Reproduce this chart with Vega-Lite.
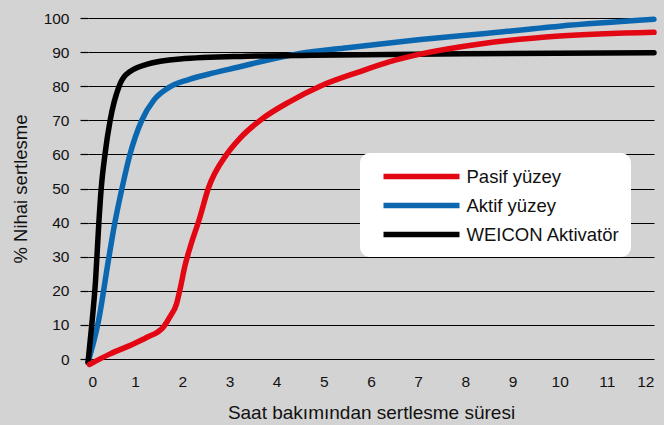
{
  "$schema": "https://vega.github.io/schema/vega-lite/v6.json",
  "width": 566,
  "height": 341,
  "autosize": {"type": "none"},
  "padding": {"left": 88, "top": 18, "right": 10, "bottom": 66},
  "background": "#d3d3d3",
  "config": {
    "view": {"stroke": null},
    "font": "Liberation Sans",
    "axis": {"labelColor": "#111", "titleColor": "#111", "labelFont": "Liberation Sans", "titleFont": "Liberation Sans", "titleFontWeight": "normal"},
    "legend": {"labelFont": "Liberation Sans"}
  },
  "datasets": {
    "curves": [
      {"s": "Aktif yüzey", "h": 0.0, "v": -1},
      {"s": "Aktif yüzey", "h": 0.22, "v": 11},
      {"s": "Aktif yüzey", "h": 0.445, "v": 30},
      {"s": "Aktif yüzey", "h": 0.57, "v": 40},
      {"s": "Aktif yüzey", "h": 0.72, "v": 50},
      {"s": "Aktif yüzey", "h": 0.89, "v": 60},
      {"s": "Aktif yüzey", "h": 1.14, "v": 70},
      {"s": "Aktif yüzey", "h": 1.4, "v": 76},
      {"s": "Aktif yüzey", "h": 1.7, "v": 79.5},
      {"s": "Aktif yüzey", "h": 2.15, "v": 82},
      {"s": "Aktif yüzey", "h": 2.66, "v": 83.9},
      {"s": "Aktif yüzey", "h": 3.22, "v": 85.7},
      {"s": "Aktif yüzey", "h": 3.72, "v": 87.4},
      {"s": "Aktif yüzey", "h": 4.49, "v": 89.6},
      {"s": "Aktif yüzey", "h": 5.5, "v": 91.3},
      {"s": "Aktif yüzey", "h": 7.0, "v": 93.6},
      {"s": "Aktif yüzey", "h": 8.31, "v": 95.3},
      {"s": "Aktif yüzey", "h": 10.0, "v": 97.6},
      {"s": "Aktif yüzey", "h": 12.0, "v": 99.6},
      {"s": "WEICON Aktivatör", "h": 0.0, "v": -1},
      {"s": "WEICON Aktivatör", "h": 0.08, "v": 10},
      {"s": "WEICON Aktivatör", "h": 0.16, "v": 23},
      {"s": "WEICON Aktivatör", "h": 0.23, "v": 40},
      {"s": "WEICON Aktivatör", "h": 0.28, "v": 50},
      {"s": "WEICON Aktivatör", "h": 0.36, "v": 60},
      {"s": "WEICON Aktivatör", "h": 0.47, "v": 70},
      {"s": "WEICON Aktivatör", "h": 0.66, "v": 80},
      {"s": "WEICON Aktivatör", "h": 0.8, "v": 83.3},
      {"s": "WEICON Aktivatör", "h": 1.24, "v": 86.4},
      {"s": "WEICON Aktivatör", "h": 1.95, "v": 88.0},
      {"s": "WEICON Aktivatör", "h": 3.36, "v": 88.8},
      {"s": "WEICON Aktivatör", "h": 4.77, "v": 89.1},
      {"s": "WEICON Aktivatör", "h": 8.0, "v": 89.5},
      {"s": "WEICON Aktivatör", "h": 12.0, "v": 89.8},
      {"s": "Pasif yüzey", "h": 0.03, "v": -1.6},
      {"s": "Pasif yüzey", "h": 0.47, "v": 1.5},
      {"s": "Pasif yüzey", "h": 0.96, "v": 4.4},
      {"s": "Pasif yüzey", "h": 1.24, "v": 6.3},
      {"s": "Pasif yüzey", "h": 1.6, "v": 9.4},
      {"s": "Pasif yüzey", "h": 1.74, "v": 12.4},
      {"s": "Pasif yüzey", "h": 1.88, "v": 16.3},
      {"s": "Pasif yüzey", "h": 1.96, "v": 21},
      {"s": "Pasif yüzey", "h": 2.05, "v": 27},
      {"s": "Pasif yüzey", "h": 2.17, "v": 33},
      {"s": "Pasif yüzey", "h": 2.36, "v": 41},
      {"s": "Pasif yüzey", "h": 2.55, "v": 50},
      {"s": "Pasif yüzey", "h": 2.94, "v": 60},
      {"s": "Pasif yüzey", "h": 3.22, "v": 64.7},
      {"s": "Pasif yüzey", "h": 3.65, "v": 70},
      {"s": "Pasif yüzey", "h": 4.28, "v": 75.5},
      {"s": "Pasif yüzey", "h": 4.92, "v": 80},
      {"s": "Pasif yüzey", "h": 5.77, "v": 84.3},
      {"s": "Pasif yüzey", "h": 6.4, "v": 87.2},
      {"s": "Pasif yüzey", "h": 7.04, "v": 89.4},
      {"s": "Pasif yüzey", "h": 8.31, "v": 92.4},
      {"s": "Pasif yüzey", "h": 10.0, "v": 94.7},
      {"s": "Pasif yüzey", "h": 12.0, "v": 95.8}
    ],
    "ticks": [
      {"h": 0}, {"h": 1}, {"h": 2}, {"h": 3}, {"h": 4}, {"h": 5}, {"h": 6},
      {"h": 7}, {"h": 8}, {"h": 9}, {"h": 10}, {"h": 11}, {"h": 12}
    ]
  },
  "encoding": {
    "x": {
      "field": "h", "type": "quantitative",
      "scale": {"domain": [0, 12], "nice": false},
      "axis": {
        "title": "Saat bakımından sertlesme süresi",
        "values": [0,1,2,3,4,5,6,7,8,9,10,11,12],
        "domain": false, "ticks": false, "tickSize": 0, "grid": false,
        "labelFontSize": 15.5, "labelPadding": 15, "labelOverlap": false,
        "titleFontSize": 19, "titlePadding": 14
      }
    },
    "y": {
      "field": "v", "type": "quantitative",
      "scale": {"domain": [0, 100], "nice": false},
      "axis": {
        "title": "% Nihai sertlesme",
        "values": [0,10,20,30,40,50,60,70,80,90,100],
        "domain": false, "grid": true, "gridColor": "#000", "gridOpacity": 1, "gridWidth": 1.2,
        "tickColor": "#000", "tickSize": 8, "tickWidth": 1.2,
        "labelFontSize": 15.5, "labelPadding": 11, "labelOverlap": false,
        "titleFontSize": 18.5, "titlePadding": 13
      }
    }
  },
  "layer": [
    {
      "data": {"name": "ticks"},
      "mark": {"type": "tick", "orient": "vertical", "size": 17, "thickness": 1.5, "color": "#000", "opacity": 1},
      "encoding": {
        "y": {"datum": 0, "type": "quantitative"}
      }
    },
    {
      "data": {"name": "curves"},
      "transform": [{"filter": "datum.s !== 'Pasif yüzey'"}],
      "mark": {"type": "line", "interpolate": "monotone", "strokeWidth": 5.5, "strokeCap": "round"},
      "encoding": {
        "color": {
          "field": "s", "type": "nominal",
          "scale": {"domain": ["Pasif yüzey", "Aktif yüzey", "WEICON Aktivatör"], "range": ["#e30613", "#0a67b0", "#000000"]},
          "legend": {
            "title": null, "orient": "none", "legendX": 272, "legendY": 135,
            "symbolType": "M0,0H8", "symbolSize": 361, "symbolStrokeWidth": 5.5,
            "labelFontSize": 18.5, "labelColor": "#111", "labelOffset": 70.5,
            "fillColor": "#ffffff", "cornerRadius": 10, "padding": 11, "rowPadding": 5,
            "strokeColor": null
          }
        }
      }
    },
    {
      "data": {"name": "curves"},
      "transform": [{"filter": "datum.s === 'Pasif yüzey'"}],
      "mark": {"type": "line", "interpolate": "monotone", "strokeWidth": 5.5, "strokeCap": "round"},
      "encoding": {
        "color": {"field": "s", "type": "nominal"}
      }
    }
  ]
}
